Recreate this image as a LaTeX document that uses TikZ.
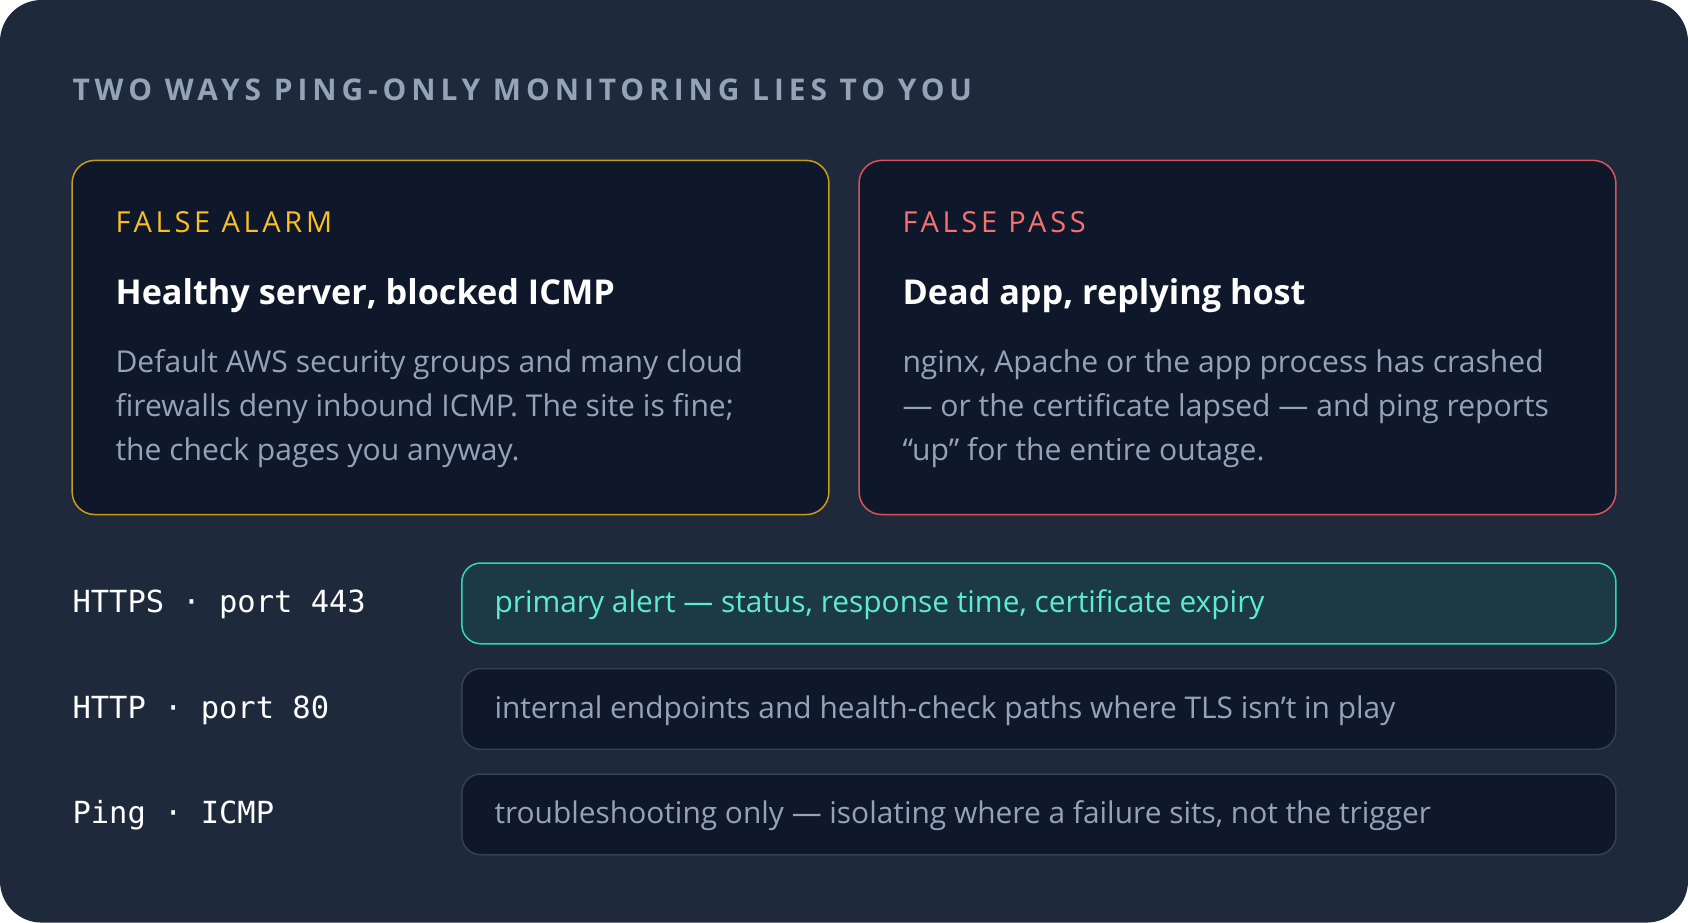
\documentclass[tikz,border=0pt]{standalone}
\usepackage{fontspec}
\setmainfont{Open Sans}
\setmonofont{DejaVu Sans Mono}
\usetikzlibrary{positioning}
\definecolor{pagebg}{HTML}{1E293B}
\definecolor{cardbg}{HTML}{0F172A}
\definecolor{mgray}{HTML}{94A3B8}
\definecolor{mline}{HTML}{334155}
\definecolor{myellow}{HTML}{FBBF24}
\definecolor{myellowln}{HTML}{CA9A1C}
\definecolor{mred}{HTML}{F87171}
\definecolor{mredln}{HTML}{D9535F}
\definecolor{mteal}{HTML}{5EEAD4}
\definecolor{mtealln}{HTML}{2DD4BF}
\definecolor{mtealbg}{HTML}{1B3A44}
\tikzstyle{card} = [rounded corners=12, fill=cardbg, line width=0.8pt]
\tikzstyle{row} = [rounded corners=10, fill=cardbg, draw=mline, line width=0.8pt]
\tikzstyle{kicker} = [anchor=base west, inner sep=0, font=\fontsize{15.3}{18}\selectfont\addfontfeature{LetterSpace=13}]
\tikzstyle{heading} = [anchor=base west, inner sep=0, text=white, font=\fontsize{18.1}{22}\selectfont\bfseries]
\tikzstyle{body} = [anchor=base west, inner sep=0, text=mgray, align=left, font=\fontsize{15.9}{23.3}\selectfont]
\tikzstyle{proto} = [anchor=base west, inner sep=0, text=white, font=\ttfamily\fontsize{16.1}{18}\selectfont]
\tikzstyle{note} = [anchor=base west, inner sep=0, font=\fontsize{15.8}{18}\selectfont]
\begin{document}
\begin{tikzpicture}[x=0.02cm, y=-0.02cm]
  \fill[white] (0,0) rectangle (1568,857);
  \fill[pagebg, rounded corners=22] (0,0) rectangle (1568,857);
  \node (title) [kicker, text=mgray, font=\fontsize{15.8}{18}\selectfont\bfseries\addfontfeature{LetterSpace=16.5}] at (67,93) {TWO WAYS PING-ONLY MONITORING LIES TO YOU};
  % cards
  \draw[card, draw=myellowln] (67,149) rectangle (770,478);
  \draw[card, draw=mredln] (798,149) rectangle (1501,478);
  \node (alarm) [kicker, text=myellow] at (107,216) {FALSE ALARM};
  \node (alarmhead) [heading] at (107,283) {Healthy server, blocked ICMP};
  \node (alarmtext) [body] at (107,428) {Default AWS security groups and many cloud\\firewalls deny inbound ICMP. The site is fine;\\the check pages you anyway.};
  \node (pass) [kicker, text=mred] at (838,216) {FALSE PASS};
  \node (passhead) [heading] at (838,283) {Dead app, replying host};
  \node (passtext) [body] at (838,428) {nginx, Apache or the app process has crashed\\— or the certificate lapsed — and ping reports\\“up” for the entire outage.};
  % rows
  \draw[row, fill=mtealbg, draw=mtealln] (429,523) rectangle (1501,598);
  \draw[row] (429,621) rectangle (1501,696);
  \draw[row] (429,719) rectangle (1501,794);
  \node (https) [proto] at (67,569) {HTTPS · port 443};
  \node (http) [proto] at (67,667) {HTTP · port 80};
  \node (ping) [proto] at (67,765) {Ping · ICMP};
  \node (httpsnote) [note, text=mteal] at (459,569) {primary alert — status, response time, certificate expiry};
  \node (httpnote) [note, text=mgray] at (459,667) {internal endpoints and health-check paths where TLS isn't in play};
  \node (pingnote) [note, text=mgray] at (459,765) {troubleshooting only — isolating where a failure sits, not the trigger};
\end{tikzpicture}
\end{document}
